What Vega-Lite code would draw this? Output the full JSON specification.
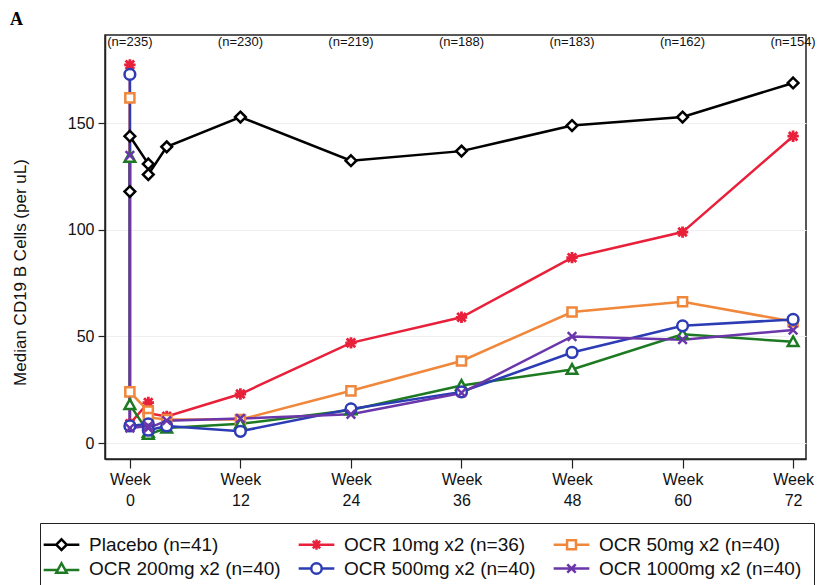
{
  "$schema": "https://vega.github.io/schema/vega-lite/v6.json",
  "width": 701,
  "height": 424,
  "autosize": "none",
  "padding": {"left": 105, "top": 35, "right": 18, "bottom": 126},
  "background": "white",
  "config": {
    "font": "Liberation Sans",
    "view": {"stroke": "#222", "strokeWidth": 1.5},
    "axis": {"labelColor": "#111", "labelFontSize": 15, "titleColor": "#111", "domainColor": "#222", "tickColor": "#222", "domainWidth": 1.5, "tickWidth": 1.2},
    "legend": {"labelFontSize": 19, "labelLimit": 0, "labelColor": "#111", "symbolSize": 110, "symbolStrokeWidth": 2.5, "symbolOpacity": 1, "symbolFillColor": "white", "strokeColor": "#222", "padding": 12, "fillColor": "white", "rowPadding": 3}
  },
  "title": {"text": "A", "anchor": "start", "frame": "group", "dx": -95, "offset": 6, "font": "Liberation Serif", "fontSize": 18, "fontWeight": "bold", "color": "#000"},
  "datasets": {
    "series": [
      {"group": "Placebo (n=41)", "week": 0, "ord": 1, "value": 118},
      {"group": "Placebo (n=41)", "week": 0, "ord": 2, "value": 144},
      {"group": "Placebo (n=41)", "week": 2, "ord": 3, "value": 131},
      {"group": "Placebo (n=41)", "week": 2, "ord": 4, "value": 126},
      {"group": "Placebo (n=41)", "week": 4, "ord": 5, "value": 139},
      {"group": "Placebo (n=41)", "week": 12, "ord": 6, "value": 153},
      {"group": "Placebo (n=41)", "week": 24, "ord": 7, "value": 132.5},
      {"group": "Placebo (n=41)", "week": 36, "ord": 8, "value": 137},
      {"group": "Placebo (n=41)", "week": 48, "ord": 9, "value": 149},
      {"group": "Placebo (n=41)", "week": 60, "ord": 10, "value": 153},
      {"group": "Placebo (n=41)", "week": 72, "ord": 11, "value": 169},
      {"group": "OCR 10mg x2 (n=36)", "week": 0, "ord": 1, "value": 177.5},
      {"group": "OCR 10mg x2 (n=36)", "week": 0, "ord": 2, "value": 9},
      {"group": "OCR 10mg x2 (n=36)", "week": 2, "ord": 3, "value": 19},
      {"group": "OCR 10mg x2 (n=36)", "week": 2, "ord": 4, "value": 14},
      {"group": "OCR 10mg x2 (n=36)", "week": 4, "ord": 5, "value": 12.5},
      {"group": "OCR 10mg x2 (n=36)", "week": 12, "ord": 6, "value": 23},
      {"group": "OCR 10mg x2 (n=36)", "week": 24, "ord": 7, "value": 47},
      {"group": "OCR 10mg x2 (n=36)", "week": 36, "ord": 8, "value": 59},
      {"group": "OCR 10mg x2 (n=36)", "week": 48, "ord": 9, "value": 87},
      {"group": "OCR 10mg x2 (n=36)", "week": 60, "ord": 10, "value": 99},
      {"group": "OCR 10mg x2 (n=36)", "week": 72, "ord": 11, "value": 144},
      {"group": "OCR 50mg x2 (n=40)", "week": 0, "ord": 1, "value": 162},
      {"group": "OCR 50mg x2 (n=40)", "week": 0, "ord": 2, "value": 24},
      {"group": "OCR 50mg x2 (n=40)", "week": 2, "ord": 3, "value": 15},
      {"group": "OCR 50mg x2 (n=40)", "week": 2, "ord": 4, "value": 12},
      {"group": "OCR 50mg x2 (n=40)", "week": 4, "ord": 5, "value": 11},
      {"group": "OCR 50mg x2 (n=40)", "week": 12, "ord": 6, "value": 11},
      {"group": "OCR 50mg x2 (n=40)", "week": 24, "ord": 7, "value": 24.5},
      {"group": "OCR 50mg x2 (n=40)", "week": 36, "ord": 8, "value": 38.5},
      {"group": "OCR 50mg x2 (n=40)", "week": 48, "ord": 9, "value": 61.5},
      {"group": "OCR 50mg x2 (n=40)", "week": 60, "ord": 10, "value": 66.3},
      {"group": "OCR 50mg x2 (n=40)", "week": 72, "ord": 11, "value": 57},
      {"group": "OCR 200mg x2 (n=40)", "week": 0, "ord": 1, "value": 134},
      {"group": "OCR 200mg x2 (n=40)", "week": 0, "ord": 2, "value": 18},
      {"group": "OCR 200mg x2 (n=40)", "week": 2, "ord": 3, "value": 5},
      {"group": "OCR 200mg x2 (n=40)", "week": 2, "ord": 4, "value": 4},
      {"group": "OCR 200mg x2 (n=40)", "week": 4, "ord": 5, "value": 7},
      {"group": "OCR 200mg x2 (n=40)", "week": 12, "ord": 6, "value": 9},
      {"group": "OCR 200mg x2 (n=40)", "week": 24, "ord": 7, "value": 15.5},
      {"group": "OCR 200mg x2 (n=40)", "week": 36, "ord": 8, "value": 27},
      {"group": "OCR 200mg x2 (n=40)", "week": 48, "ord": 9, "value": 34.5},
      {"group": "OCR 200mg x2 (n=40)", "week": 60, "ord": 10, "value": 51},
      {"group": "OCR 200mg x2 (n=40)", "week": 72, "ord": 11, "value": 47.5},
      {"group": "OCR 500mg x2 (n=40)", "week": 0, "ord": 1, "value": 173},
      {"group": "OCR 500mg x2 (n=40)", "week": 0, "ord": 2, "value": 8},
      {"group": "OCR 500mg x2 (n=40)", "week": 2, "ord": 3, "value": 9},
      {"group": "OCR 500mg x2 (n=40)", "week": 2, "ord": 4, "value": 6},
      {"group": "OCR 500mg x2 (n=40)", "week": 4, "ord": 5, "value": 8},
      {"group": "OCR 500mg x2 (n=40)", "week": 12, "ord": 6, "value": 5.5},
      {"group": "OCR 500mg x2 (n=40)", "week": 24, "ord": 7, "value": 16},
      {"group": "OCR 500mg x2 (n=40)", "week": 36, "ord": 8, "value": 24},
      {"group": "OCR 500mg x2 (n=40)", "week": 48, "ord": 9, "value": 42.5},
      {"group": "OCR 500mg x2 (n=40)", "week": 60, "ord": 10, "value": 55},
      {"group": "OCR 500mg x2 (n=40)", "week": 72, "ord": 11, "value": 58},
      {"group": "OCR 1000mg x2 (n=40)", "week": 0, "ord": 1, "value": 135},
      {"group": "OCR 1000mg x2 (n=40)", "week": 0, "ord": 2, "value": 7},
      {"group": "OCR 1000mg x2 (n=40)", "week": 2, "ord": 3, "value": 8},
      {"group": "OCR 1000mg x2 (n=40)", "week": 2, "ord": 4, "value": 7},
      {"group": "OCR 1000mg x2 (n=40)", "week": 4, "ord": 5, "value": 10.5},
      {"group": "OCR 1000mg x2 (n=40)", "week": 12, "ord": 6, "value": 11.5},
      {"group": "OCR 1000mg x2 (n=40)", "week": 24, "ord": 7, "value": 13.5},
      {"group": "OCR 1000mg x2 (n=40)", "week": 36, "ord": 8, "value": 23.5},
      {"group": "OCR 1000mg x2 (n=40)", "week": 48, "ord": 9, "value": 50},
      {"group": "OCR 1000mg x2 (n=40)", "week": 60, "ord": 10, "value": 48.5},
      {"group": "OCR 1000mg x2 (n=40)", "week": 72, "ord": 11, "value": 53}
    ],
    "counts": [
      {"week": 0, "label": "(n=235)"},
      {"week": 12, "label": "(n=230)"},
      {"week": 24, "label": "(n=219)"},
      {"week": 36, "label": "(n=188)"},
      {"week": 48, "label": "(n=183)"},
      {"week": 60, "label": "(n=162)"},
      {"week": 72, "label": "(n=154)"}
    ]
  },
  "layer": [
    {
      "data": {"name": "series"},
      "encoding": {
        "x": {"field": "week", "type": "quantitative", "scale": {"domain": [-2.7, 73.4], "nice": false, "zero": false},
          "axis": {"values": [0, 12, 24, 36, 48, 60, 72], "title": null, "grid": false, "tickSize": 9, "labelExpr": "['Week', datum.value]", "labelLineHeight": 21, "labelPadding": 3, "labelBaseline": "top", "labelFontSize": 16}},
        "y": {"field": "value", "type": "quantitative", "scale": {"domain": [-7.5, 191.5], "nice": false, "zero": false},
          "axis": {"values": [0, 50, 100, 150], "title": "Median CD19 B Cells (per uL)", "titleFontSize": 17, "titleFontWeight": "normal", "titleX": -76, "titleY": 237, "grid": true, "gridColor": "#efefef", "tickSize": 7, "labelPadding": 4, "labelFontSize": 16}},
        "color": {"field": "group", "type": "nominal",
          "scale": {"domain": ["Placebo (n=41)", "OCR 10mg x2 (n=36)", "OCR 50mg x2 (n=40)", "OCR 200mg x2 (n=40)", "OCR 500mg x2 (n=40)", "OCR 1000mg x2 (n=40)"],
            "range": ["#000000", "#e8203a", "#f0873a", "#1d7a22", "#2c3cb4", "#6a36aa"]},
          "legend": {"title": null, "orient": "none", "legendX": -65, "legendY": 488, "columns": 3, "direction": "horizontal", "labelOffset": 18, "columnPadding": 12, "symbolOpacity": 1}}
      },
      "layer": [
        {
          "mark": {"type": "line", "strokeWidth": 2.5},
          "encoding": {"order": {"field": "ord", "type": "quantitative"}}
        },
        {
          "transform": [{"filter": "datum.group === 'Placebo (n=41)'"}],
          "mark": {"type": "point", "filled": false, "fill": "white", "strokeWidth": 2.5, "size": 115, "opacity": 1, "shape": "M0,-1L1,0L0,1L-1,0Z"}
        },
        {
          "transform": [{"filter": "datum.group === 'OCR 10mg x2 (n=36)'"}],
          "mark": {"type": "point", "filled": false, "fill": "white", "strokeWidth": 2.8, "size": 130, "opacity": 1, "shape": "M-1,0L1,0M0,-1L0,1M-0.75,-0.75L0.75,0.75M-0.75,0.75L0.75,-0.75"}
        },
        {
          "transform": [{"filter": "datum.group === 'OCR 50mg x2 (n=40)'"}],
          "mark": {"type": "point", "filled": false, "fill": "white", "strokeWidth": 2.5, "size": 115, "opacity": 1, "shape": "M-0.85,-0.85L0.85,-0.85L0.85,0.85L-0.85,0.85Z"}
        },
        {
          "transform": [{"filter": "datum.group === 'OCR 200mg x2 (n=40)'"}],
          "mark": {"type": "point", "filled": false, "fill": "white", "strokeWidth": 2.5, "size": 115, "opacity": 1, "shape": "M0,-1L1,0.8L-1,0.8Z"}
        },
        {
          "transform": [{"filter": "datum.group === 'OCR 500mg x2 (n=40)'"}],
          "mark": {"type": "point", "filled": false, "fill": "white", "strokeWidth": 2.5, "size": 115, "opacity": 1, "shape": "M-1,0A1,1 0 1,0 1,0A1,1 0 1,0 -1,0Z"}
        },
        {
          "transform": [{"filter": "datum.group === 'OCR 1000mg x2 (n=40)'"}],
          "mark": {"type": "point", "filled": false, "fill": "white", "strokeWidth": 2.5, "size": 115, "opacity": 1, "shape": "M-0.8,-0.8L0.8,0.8M-0.8,0.8L0.8,-0.8"}
        },
        {
          "mark": {"type": "point", "filled": false, "fill": "white", "strokeWidth": 2.5, "size": 110, "opacity": 0},
          "encoding": {
            "shape": {"field": "group", "type": "nominal",
              "scale": {"domain": ["Placebo (n=41)", "OCR 10mg x2 (n=36)", "OCR 50mg x2 (n=40)", "OCR 200mg x2 (n=40)", "OCR 500mg x2 (n=40)", "OCR 1000mg x2 (n=40)"],
                "range": ["M-3.4,0L-1,0M1,0L3.4,0M0,-1L1,0L0,1L-1,0Z", "M-3.4,0L3.4,0M0,-1L0,1M-0.7,-0.7L0.7,0.7M-0.7,0.7L0.7,-0.7", "M-3.4,0L-0.85,0M0.85,0L3.4,0M-0.85,-0.85L0.85,-0.85L0.85,0.85L-0.85,0.85Z", "M-3.4,0.3L-0.85,0.3M0.85,0.3L3.4,0.3M0,-1L1,0.8L-1,0.8Z", "M-3.4,0L-1,0M1,0L3.4,0M-1,0A1,1 0 1,0 1,0A1,1 0 1,0 -1,0Z", "M-3.4,0L3.4,0M-0.8,-0.8L0.8,0.8M-0.8,0.8L0.8,-0.8"]},
              "legend": {"title": null, "orient": "none", "legendX": -65, "legendY": 488, "columns": 3, "direction": "horizontal", "labelOffset": 18, "columnPadding": 12, "symbolOpacity": 1}}
          }
        }
      ]
    },
    {
      "data": {"name": "counts"},
      "mark": {"type": "text", "fontSize": 13, "color": "#111", "baseline": "middle", "align": "center"},
      "encoding": {
        "x": {"field": "week", "type": "quantitative"},
        "y": {"datum": 188.3},
        "text": {"field": "label"}
      }
    }
  ]
}
